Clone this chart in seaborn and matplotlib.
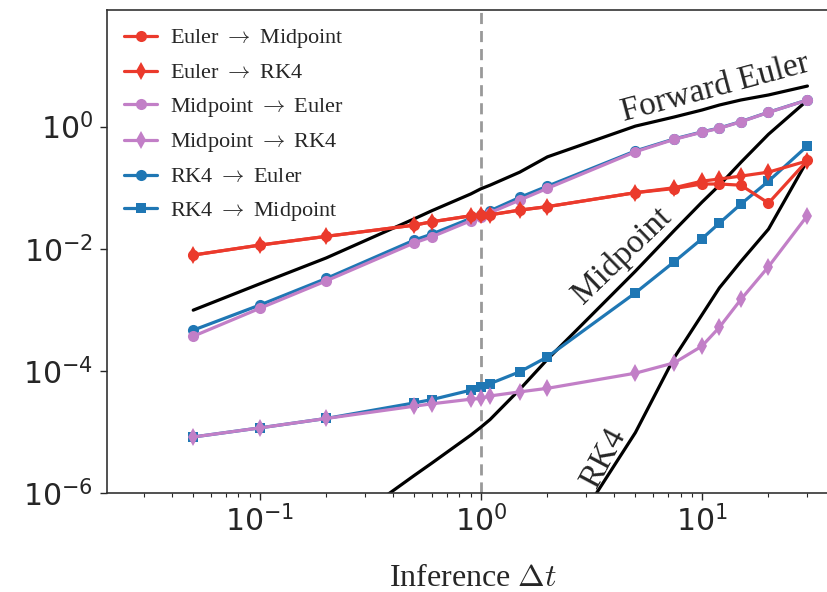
import numpy as np
import pandas as pd
import matplotlib
matplotlib.use("Agg")
import matplotlib.pyplot as plt
import seaborn as sns
from matplotlib.ticker import NullLocator, FixedLocator

# DATA
dt = [0.05, 0.1, 0.2, 0.5, 0.6, 0.9, 1.0, 1.1, 1.5, 2, 5, 7.5, 10, 12, 15, 20, 30]

euler_to_mid = [7.9e-3, 1.15e-2, 1.6e-2, 2.44e-2, 2.77e-2, 3.47e-2, 3.56e-2, 3.6e-2, 4.3e-2,
                4.9e-2, 8.3e-2, 9.7e-2, 0.115, 0.115, 0.11, 0.056, 0.28]
euler_to_rk4 = [7.9e-3, 1.15e-2, 1.6e-2, 2.44e-2, 2.77e-2, 3.47e-2, 3.56e-2, 3.6e-2, 4.3e-2,
                4.9e-2, 8.3e-2, 0.1, 0.128, 0.139, 0.155, 0.18, 0.275]
mid_to_euler = [3.7e-4, 1.06e-3, 2.99e-3, 1.25e-2, 1.57e-2, 2.88e-2, 3.3e-2, 3.89e-2, 6.28e-2,
                9.77e-2, 0.388, 0.62, 0.81, 0.94, 1.2, 1.71, 2.73]
mid_to_rk4 = [8.3e-6, 1.17e-5, 1.67e-5, 2.65e-5, 2.9e-5, 3.45e-5, 3.55e-5, 3.9e-5, 4.55e-5,
              5.2e-5, 9.2e-5, 1.36e-4, 2.55e-4, 5.2e-4, 1.48e-3, 5.1e-3, 3.5e-2]
rk4_to_euler = [4.66e-4, 1.2e-3, 3.27e-3, 1.39e-2, 1.74e-2, 3.15e-2, 3.6e-2, 4.19e-2, 6.95e-2,
                0.106, 0.40, 0.63, 0.82, 0.95, 1.21, 1.72, 2.74]
rk4_to_mid = [8.3e-6, 1.17e-5, 1.67e-5, 3.0e-5, 3.4e-5, 4.85e-5, 5.5e-5, 6.2e-5, 9.7e-5,
              1.7e-4, 1.9e-3, 6.15e-3, 1.46e-2, 2.64e-2, 5.4e-2, 0.128, 0.485]

# reference solver error curves
fe_err = [9.9e-4, 2.67e-3, 7.1e-3, 3.1e-2, 4.2e-2, 7.9e-2, 9.6e-2, 0.11, 0.18, 0.32,
          1.02, 1.44, 1.87, 2.26, 2.73, 3.3, 4.62]
mid_dt = [0.2, 0.5, 0.6, 0.9, 1.0, 1.1, 1.5, 2, 5, 7.5, 10, 12, 15, 20, 30]
mid_err = [1.8e-7, 1.95e-6, 3.1e-6, 8.9e-6, 1.2e-5, 1.6e-5, 5.0e-5, 1.55e-4, 4.3e-3, 2.0e-2,
           5.8e-2, 0.11, 0.26, 0.75, 2.7]
rk4_dt = [2, 5, 7.5, 10, 12, 15, 20, 30]
rk4_err = [5.6e-8, 9.8e-6, 1.66e-4, 8.3e-4, 2.3e-3, 6.2e-3, 2.1e-2, 0.28]

# Visual theme
sns.set_style("ticks")
plt.rcParams.update({
    "font.family": ["Liberation Serif", "DejaVu Serif"],
    "axes.edgecolor": "#333333",
    "axes.linewidth": 1.2,
})

RED = "#eb3a2c"
PURPLE = "#c27fc7"
BLUE = "#1f77b4"

fig = plt.figure(figsize=(8.27, 5.92), dpi=100)
ax = fig.add_axes([0.129, 0.167, 0.885, 0.816])
ax.set_xscale("log")
ax.set_yscale("log")

# black reference curves
for xs, ys in [(dt, fe_err), (mid_dt, mid_err), (rk4_dt, rk4_err)]:
    sns.lineplot(x=xs, y=ys, ax=ax, color="black", lw=2.3, estimator=None,
                 sort=False, legend=False, zorder=2)

ax.axvline(1.0, color="#999999", lw=2, ls=(0, (4, 2.5)), zorder=1)

series = [
    ("RK4 $\\rightarrow$ Euler", rk4_to_euler, BLUE, "o", 8),
    ("RK4 $\\rightarrow$ Midpoint", rk4_to_mid, BLUE, "s", 7),
    ("Midpoint $\\rightarrow$ Euler", mid_to_euler, PURPLE, "o", 8),
    ("Midpoint $\\rightarrow$ RK4", mid_to_rk4, PURPLE, "d", 9),
    ("Euler $\\rightarrow$ Midpoint", euler_to_mid, RED, "o", 8),
    ("Euler $\\rightarrow$ RK4", euler_to_rk4, RED, "d", 9),
]
handles = {}
for label, vals, col, mk, ms in series:
    sns.lineplot(x=dt, y=vals, ax=ax, color=col, lw=2.3, marker=mk, markersize=ms,
                 markeredgewidth=0, estimator=None, sort=False, legend=False,
                 label=label, zorder=3)
    handles[label] = ax.get_lines()[-1]

order = [s[0] for s in series[4:]] + [s[0] for s in series[2:4]] + [s[0] for s in series[:2]]
leg = ax.legend([handles[k] for k in order], order, loc="upper left", frameon=False,
                fontsize=16, labelspacing=0.56, handlelength=1.5, handletextpad=0.55,
                borderaxespad=0.38)
for t in leg.get_texts():
    t.set_math_fontfamily("cm")

# curve labels
ax.text(11.5, 4.3, "Forward Euler", fontsize=24, rotation=15, ha="center", va="center",
        rotation_mode="anchor")
ax.text(4.35, 7.6e-3, "Midpoint", fontsize=24, rotation=44, ha="center", va="center",
        rotation_mode="anchor")
ax.text(3.6, 3.7e-6, "RK4", fontsize=24, rotation=62, ha="center", va="center",
        rotation_mode="anchor")

ax.set_xlim(0.0203, 41.5)
ax.set_ylim(1e-6, 81)
ax.yaxis.set_major_locator(FixedLocator([1e-6, 1e-4, 1e-2, 1e0]))
ax.yaxis.set_minor_locator(NullLocator())
ax.tick_params(axis="both", which="major", labelsize=21.5, labelfontfamily="DejaVu Sans",
               length=5, width=1)
ax.tick_params(axis="y", which="major", pad=5)
ax.tick_params(axis="x", which="minor", length=3, width=0.8)

ax.set_xlabel(r"Inference $\Delta t$", fontsize=23, labelpad=19, math_fontfamily="cm")

plt.savefig("out.png", dpi=100)
